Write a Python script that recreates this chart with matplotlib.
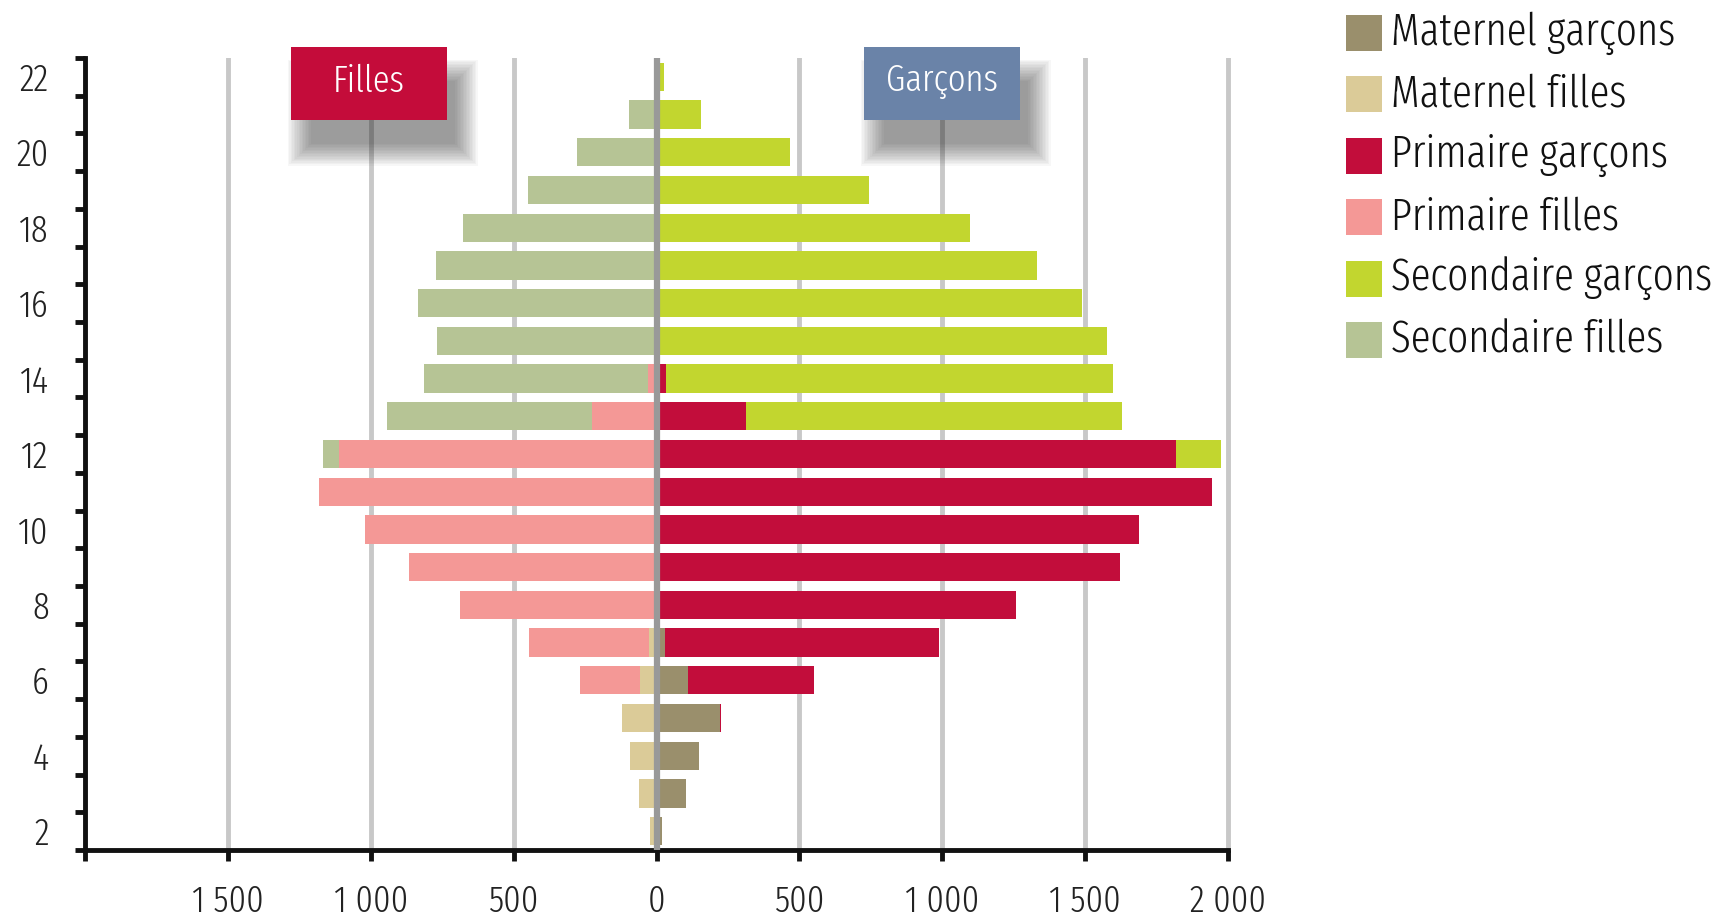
import numpy as np
import matplotlib
matplotlib.use("Agg")
import matplotlib.pyplot as plt
from matplotlib.patches import Rectangle
from matplotlib.ticker import FuncFormatter

plt.rcParams['font.family'] = ['Fira Sans Extra Condensed', 'DejaVu Sans']
plt.rcParams['font.weight'] = 300

# ages 2 .. 22
ages = list(range(2, 23))

mat_garcons = [20, 102, 148, 222, 110, 29, 0, 0, 0, 0, 0, 0, 0, 0, 0, 0, 0, 0, 0, 0, 0]
mat_filles = [22, 62, 93, 121, 59, 28, 0, 0, 0, 0, 0, 0, 0, 0, 0, 0, 0, 0, 0, 0, 0]
prim_garcons = [0, 0, 0, 4, 441, 961, 1259, 1623, 1687, 1944, 1816, 312, 33, 0, 0, 0, 0, 0, 0, 0, 0]
prim_filles = [0, 0, 0, 0, 209, 419, 688, 866, 1019, 1181, 1111, 226, 31, 0, 0, 0, 0, 0, 0, 0, 0]
sec_garcons = [0, 0, 0, 0, 0, 0, 0, 0, 0, 0, 158, 1316, 1563, 1577, 1487, 1330, 1096, 744, 468, 154, 25]
sec_filles = [0, 0, 0, 0, 0, 0, 0, 0, 0, 0, 57, 718, 782, 770, 836, 773, 678, 450, 280, 98, 5]

legend_labels = ['Maternel garçons', 'Maternel filles', 'Primaire garçons',
                 'Primaire filles', 'Secondaire garçons', 'Secondaire filles']
colors = ['#9A8F6C', '#DBCB98', '#C20D3B', '#F49896', '#C2D62F', '#B6C495']

W, H = 1713, 924
fig = plt.figure(figsize=(W / 100, H / 100), dpi=100)
ax = fig.add_axes([85 / W, 74 / H, 1146 / W, 792 / H])

y = np.array(ages)
mg = np.array(mat_garcons)
mf = np.array(mat_filles)
pg = np.array(prim_garcons)
pf = np.array(prim_filles)
sg = np.array(sec_garcons)
sf = np.array(sec_filles)

h = 0.75
ax.barh(y, mg, h, color=colors[0], zorder=2)
ax.barh(y, -mf, h, color=colors[1], zorder=2)
ax.barh(y, pg, h, left=mg, color=colors[2], zorder=2)
ax.barh(y, -pf, h, left=-mf, color=colors[3], zorder=2)
ax.barh(y, sg, h, left=mg + pg, color=colors[4], zorder=2)
ax.barh(y, -sf, h, left=-(mf + pf), color=colors[5], zorder=2)

# zero line
ax.axvline(0, color='#999999', lw=4.5, zorder=4)

ax.set_xlim(-2000, 2010)
ax.set_ylim(1.5, 22.5)

xt = np.arange(-2000, 2001, 500)
ax.set_xticks(xt)
ax.xaxis.set_major_formatter(FuncFormatter(
    lambda v, p: '' if v <= -2000 else '{:,}'.format(int(abs(v))).replace(',', ' ')))
ax.grid(axis='x', color='#C8C8C8', lw=3.5, zorder=0)
ax.set_axisbelow(True)

ax.set_yticks(np.arange(2, 23, 2))
ax.set_yticks(np.arange(1.5, 23, 1), minor=True)
ax.tick_params(axis='y', which='major', length=0, pad=26, labelsize=27)
ax.tick_params(axis='y', which='minor', length=7, width=3.5, color='#111111')
ax.tick_params(axis='x', which='major', direction='out', length=8, width=3.5,
               color='#111111', pad=16, labelsize=27)
for lab in ax.get_xticklabels() + ax.get_yticklabels():
    lab.set_color('#222222')

for s in ['top', 'right']:
    ax.spines[s].set_visible(False)
for s in ['left', 'bottom']:
    ax.spines[s].set_linewidth(3.5)
    ax.spines[s].set_color('#111111')
ax.spines['bottom'].set_bounds(-2000, 2000)


def label_box(x0, x1, text, fc):
    y0, y1 = 20.86, 22.79
    # soft shadow, shifted right and down, built from growing transparent layers
    n = 16
    for k in range(n):
        gx = 85 * (n - k) / n
        gy = 0.62 * (n - k) / n
        ax.add_patch(Rectangle((x0 + 75 - gx, y0 - 0.6 - gy),
                               x1 - x0 + 2 * gx - 50, (y1 - y0) + 2 * gy - 0.35,
                               facecolor='#2a2a2a', alpha=0.035, lw=0, zorder=5,
                               clip_on=False))
    ax.add_patch(Rectangle((x0, y0), x1 - x0, y1 - y0, facecolor=fc, lw=0,
                           zorder=6, clip_on=False))
    ax.text((x0 + x1) / 2, (y0 + y1) / 2 + 0.05, text, color='white', fontsize=27,
            ha='center', va='center', zorder=7)


label_box(-1280, -735, 'Filles', '#C40C3A')
label_box(725, 1270, 'Garçons', '#6A83A8')

# legend drawn by hand on the right
for i, (lab, c) in enumerate(zip(legend_labels, colors)):
    yc = 33 + i * 61.4
    fig.add_artist(Rectangle((1346 / W, 1 - (yc + 18) / H), 36 / W, 36 / H,
                             facecolor=c, lw=0, transform=fig.transFigure))
    fig.text(1391 / W, 1 - yc / H, lab, fontsize=32, va='center', ha='left',
             color='#111111')

fig.savefig('out.png', dpi=100)
